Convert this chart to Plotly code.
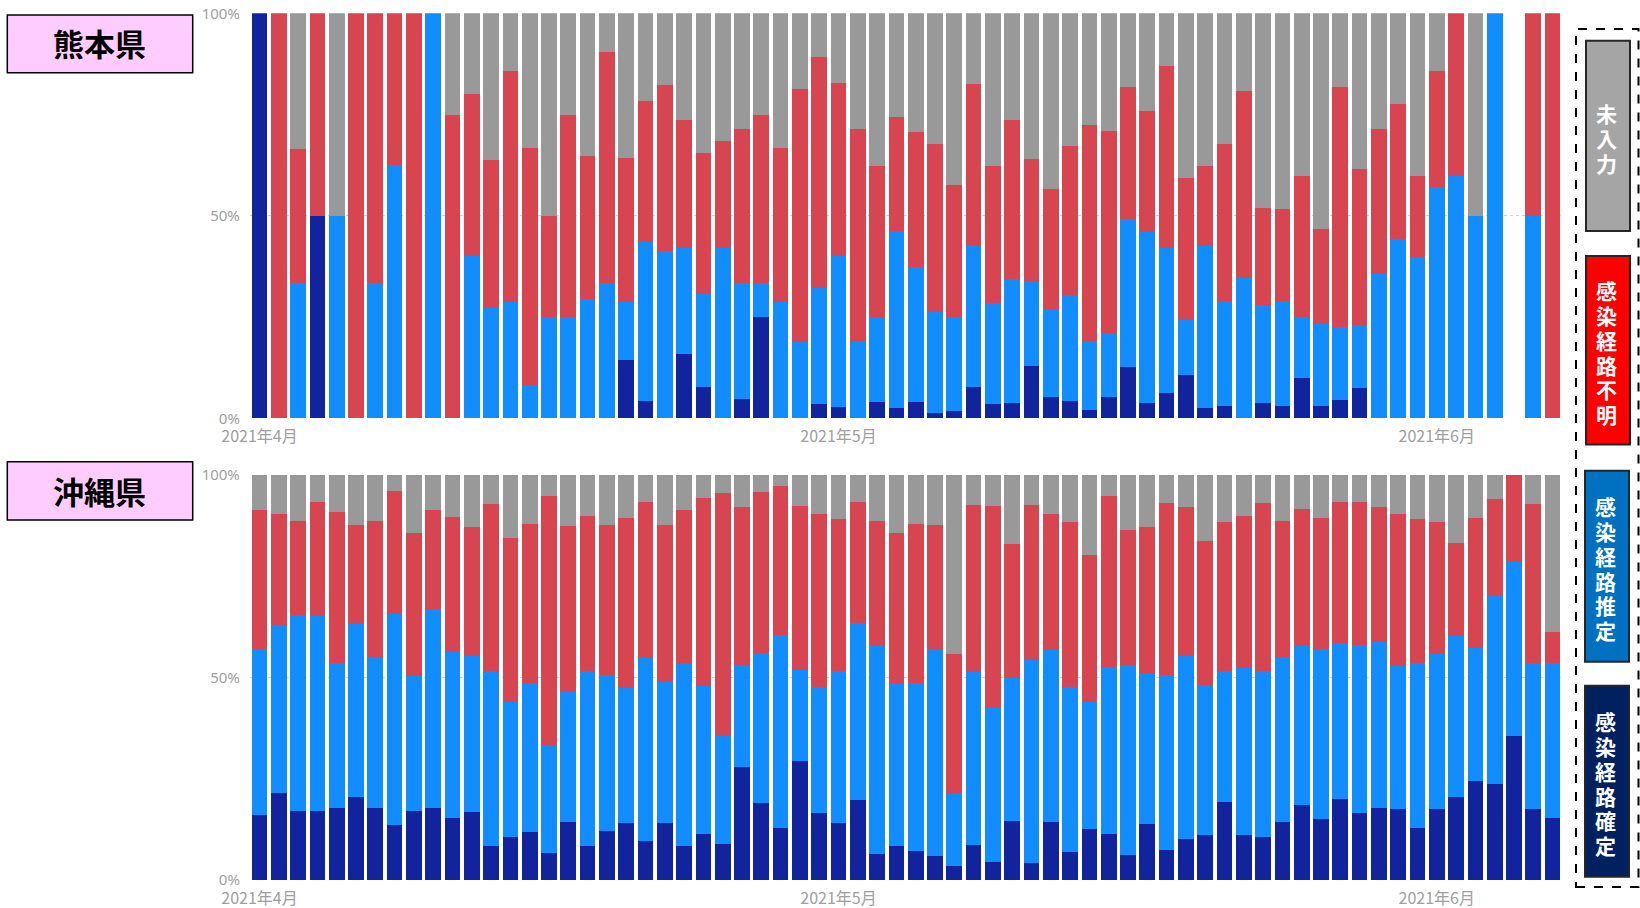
import pandas as pd
import plotly.graph_objects as go

# ---------------- data ----------------
dates = pd.date_range("2021-04-01", "2021-06-07", freq="D").strftime("%Y-%m-%d").tolist()
tick_dates = ["2021-04-01", "2021-05-01", "2021-06-01"]
tick_labels = ["2021年4月", "2021年5月", "2021年6月"]
y_tickvals = [0, 50, 100]
y_ticktext = ["0%", "50%", "100%"]
series_names = ["感染経路確定", "感染経路推定", "感染経路不明", "未入力"]
prefectures = ["熊本県", "沖縄県"]

N = None
kumamoto_confirmed = [100, 0, 0, 50, 0, 0, 0, 0, 0, 0, 0, 0, 0, 0, 0, 0, 0, 0, 0, 14.3,
                      4.3, 0, 15.8, 7.7, 0, 4.8, 25, 0, 0, 3.6, 2.7, 0, 4.0, 2.5, 4.0, 1.4, 1.9, 7.8, 3.5, 3.9,
                      13.0, 5.3, 4.3, 2.1, 5.2, 12.6, 3.9, 6.3, 10.7, 2.5, 3.1, 0, 3.9, 3.0, 9.9, 3.1, 4.4, 7.6, 0, 0,
                      0, 0, 0, 0, 0, N, 0, 0]
kumamoto_estimated = [0, 0, 33.3, 0, 50, 0, 33.3, 62.5, 0, 100, 0, 40, 27.3, 28.6, 8.3, 25, 25, 29.4, 33.3, 14.3,
                      39.2, 41.2, 26.3, 23.1, 42.1, 28.6, 8.3, 28.6, 18.8, 28.6, 37.4, 19.1, 21.0, 43.7, 33.4, 24.8, 23.2, 35.0, 24.9, 30.4,
                      20.9, 21.6, 26.2, 17.0, 15.8, 36.5, 42.1, 35.7, 13.6, 40.1, 25.9, 34.6, 24.1, 26.0, 15.0, 20.2, 18.2, 15.4, 35.6, 44.3,
                      39.9, 57.0, 59.9, 50, 100, N, 50, 0]
kumamoto_unknown = [0, 100, 33.3, 50, 0, 100, 66.7, 37.5, 100, 0, 75, 40, 36.4, 57.1, 58.4, 25, 50, 35.3, 57.2, 35.7,
                    34.8, 41.1, 31.6, 34.6, 26.3, 38.1, 41.7, 38.1, 62.5, 57.1, 42.8, 52.3, 37.4, 28.1, 33.4, 41.5, 32.5, 39.7, 33.8, 39.4,
                    30.1, 29.7, 36.8, 53.2, 50.0, 32.6, 30.0, 45.1, 35.1, 19.8, 38.7, 46.2, 23.9, 22.6, 35.0, 23.4, 59.1, 38.5, 35.8, 33.3,
                    20.0, 28.8, 40.1, 0, 0, N, 50, 100]
kumamoto_unentered = [0, 0, 33.4, 0, 50, 0, 0, 0, 0, 0, 25, 20, 36.3, 14.3, 33.3, 50, 25, 35.3, 9.5, 35.7,
                      21.7, 17.7, 26.3, 34.6, 31.6, 28.5, 25, 33.3, 18.7, 10.7, 17.1, 28.6, 37.6, 25.7, 29.2, 32.3, 42.4, 17.5, 37.8, 26.3,
                      36.0, 43.4, 32.7, 27.7, 29.0, 18.3, 24.0, 12.9, 40.6, 37.6, 32.3, 19.2, 48.1, 48.4, 40.1, 53.3, 18.3, 38.5, 28.6, 22.4,
                      40.1, 14.2, 0, 50, 0, N, 0, 0]

okinawa_confirmed = [16.0, 21.4, 17.1, 17.1, 17.9, 20.6, 17.9, 13.7, 17.0, 17.9, 15.4, 16.9, 8.4, 10.7, 11.9, 6.6, 14.2, 8.4, 12.2, 14.0,
                     9.6, 14.0, 8.4, 11.4, 8.8, 28.0, 18.9, 12.9, 29.4, 16.5, 14.0, 19.8, 6.4, 8.4, 7.2, 5.9, 3.5, 8.6, 4.4, 14.6,
                     4.1, 14.2, 6.8, 12.5, 11.4, 6.2, 13.8, 7.4, 10.1, 11.1, 19.3, 11.1, 10.7, 14.4, 18.5, 15.1, 20.0, 16.5, 17.9, 17.5,
                     12.9, 17.5, 20.4, 24.5, 23.6, 35.6, 17.5, 15.2]
okinawa_estimated = [41.0, 41.6, 48.3, 48.2, 35.6, 42.6, 37.1, 52.1, 33.4, 49.0, 41.0, 38.4, 43.3, 33.3, 36.8, 26.7, 32.3, 43.2, 38.4, 33.3,
                     45.1, 35.0, 45.1, 36.6, 26.8, 25.1, 37.2, 47.6, 22.5, 31.1, 37.7, 43.6, 51.4, 40.0, 41.5, 51.1, 17.9, 42.8, 38.0, 35.2,
                     50.1, 42.6, 40.8, 31.5, 41.1, 46.9, 37.4, 43.1, 45.3, 37.0, 32.4, 41.2, 40.9, 40.6, 39.3, 41.9, 38.6, 41.5, 40.8, 35.4,
                     40.6, 38.2, 39.8, 32.9, 46.6, 42.8, 36.0, 38.5]
okinawa_unknown = [34.4, 27.4, 23.3, 28.0, 37.3, 24.5, 33.7, 30.3, 35.4, 24.5, 33.3, 31.9, 41.1, 40.4, 39.1, 61.6, 40.9, 38.4, 37.1, 42.0,
                   38.7, 38.7, 37.9, 46.2, 59.9, 38.9, 39.8, 36.9, 40.5, 42.8, 37.4, 29.9, 30.9, 37.2, 39.1, 30.7, 34.4, 41.2, 49.9, 33.1,
                   38.4, 33.6, 40.7, 36.2, 42.2, 33.3, 36.0, 42.5, 36.8, 35.6, 36.8, 37.6, 41.4, 33.6, 33.8, 32.5, 34.7, 35.4, 33.5, 37.5,
                   35.6, 32.6, 23.1, 31.9, 23.8, 21.6, 39.3, 7.6]
okinawa_unentered = [8.6, 9.6, 11.3, 6.7, 9.2, 12.3, 11.3, 3.9, 14.2, 8.6, 10.3, 12.8, 7.2, 15.6, 12.2, 5.1, 12.6, 10.0, 12.3, 10.7,
                     6.6, 12.3, 8.6, 5.8, 4.5, 8.0, 4.1, 2.6, 7.6, 9.6, 10.9, 6.7, 11.3, 14.4, 12.2, 12.3, 44.2, 7.4, 7.7, 17.1,
                     7.4, 9.6, 11.7, 19.8, 5.3, 13.6, 12.8, 7.0, 7.8, 16.3, 11.5, 10.1, 7.0, 11.4, 8.4, 10.5, 6.7, 6.6, 7.8, 9.6,
                     10.9, 11.7, 16.7, 10.7, 6.0, 0, 7.2, 38.7]

series_colors = ["#12239E", "#118DFF", "#D64550", "#999999"]
legend_fill = ["#002060", "#0070C0", "#FF0000", "#A5A5A5"]

# ---------------- figure ----------------
W, H = 1640, 908


def fx(p):
    return p / W


def fy(p):
    return 1 - p / H


fig = go.Figure()
kum = [kumamoto_confirmed, kumamoto_estimated, kumamoto_unknown, kumamoto_unentered]
oki = [okinawa_confirmed, okinawa_estimated, okinawa_unknown, okinawa_unentered]
for vals, name, col in zip(kum, series_names, series_colors):
    fig.add_trace(go.Bar(x=dates, y=vals, name=name, marker=dict(color=col, line=dict(width=0)),
                         xaxis="x", yaxis="y", showlegend=False))
for vals, name, col in zip(oki, series_names, series_colors):
    fig.add_trace(go.Bar(x=dates, y=vals, name=name, marker=dict(color=col, line=dict(width=0)),
                         xaxis="x2", yaxis="y2", showlegend=False))

x_left, x_right = 249.85, 1562.25
xcommon = dict(type="date", range=["2021-03-31 12:00", "2021-06-07 12:00"],
               tickvals=tick_dates, ticktext=tick_labels, showgrid=False, zeroline=False,
               showline=False, ticks="", ticklabelstandoff=7, automargin=False,
               tickfont=dict(family="Noto Sans CJK JP", size=16, color="#a0a0a0"),
               domain=[fx(x_left), fx(x_right)], fixedrange=True)
ycommon = dict(range=[0, 100], tickvals=y_tickvals, ticktext=y_ticktext, showgrid=True,
               gridcolor="#d4d4d4", griddash="dot", gridwidth=1, zeroline=False, showline=False,
               ticks="", ticklabelstandoff=9, automargin=False,
               tickfont=dict(family="Noto Sans", size=15, color="#a0a0a0"), fixedrange=True)

fig.update_layout(
    width=W, height=H, margin=dict(l=0, r=0, t=0, b=0, pad=0, autoexpand=False),
    paper_bgcolor="white", plot_bgcolor="white",
    barmode="stack", bargap=0.19,
    xaxis=dict(**xcommon, anchor="y"),
    yaxis=dict(**ycommon, domain=[fy(418.3), fy(13.3)], anchor="x"),
    xaxis2=dict(**xcommon, anchor="y2"),
    yaxis2=dict(**ycommon, domain=[fy(880), fy(475)], anchor="x2"),
)

shapes = []
annotations = []

# prefecture title boxes
for name, (y0, y1, yc) in zip(prefectures, [(15, 72.7, 43), (461.7, 520, 490)]):
    shapes.append(dict(type="rect", xref="paper", yref="paper", x0=fx(7.3), x1=fx(192.7),
                       y0=fy(y1), y1=fy(y0), fillcolor="#FFCCFF", line=dict(color="black", width=1.5),
                       layer="above"))
    annotations.append(dict(xref="paper", yref="paper", x=fx(99.5), y=fy(yc), text="<b>" + name + "</b>",
                            showarrow=False, xanchor="center", yanchor="middle",
                            font=dict(family="Noto Sans CJK JP", size=31, color="black")))

# legend dashed frame
shapes.append(dict(type="rect", xref="paper", yref="paper", x0=fx(1576), x1=fx(1638.5), y0=fy(887), y1=fy(29),
                   line=dict(color="black", width=2, dash="dash"), fillcolor="rgba(0,0,0,0)"))

legend_boxes = [
    (series_names[3], legend_fill[3], 1586, 1630, 40.7, 231),
    (series_names[2], legend_fill[2], 1586, 1630, 256, 444.5),
    (series_names[1], legend_fill[1], 1585, 1629, 470.7, 661.7),
    (series_names[0], legend_fill[0], 1585, 1629, 685.7, 876.7),
]
for text, fill, x0, x1, y0, y1 in legend_boxes:
    shapes.append(dict(type="rect", xref="paper", yref="paper", x0=fx(x0), x1=fx(x1), y0=fy(y1), y1=fy(y0),
                       fillcolor=fill, line=dict(color="#262626", width=2)))
    n = len(text)
    pitch = 24.8
    yc = (y0 + y1) / 2 + 2
    start = yc - pitch * (n - 1) / 2
    for k, ch in enumerate(text):
        annotations.append(dict(xref="paper", yref="paper", x=fx((x0 + x1) / 2 - 2), y=fy(start + k * pitch),
                                text="<b>" + ch + "</b>", showarrow=False, xanchor="center", yanchor="middle",
                                font=dict(family="Noto Sans CJK JP", size=21, color="white")))

fig.update_layout(shapes=shapes, annotations=annotations)
fig.write_html("out.html", config={"displayModeBar": False},
               post_script="document.body.style.margin='0';document.body.style.overflow='hidden';")
